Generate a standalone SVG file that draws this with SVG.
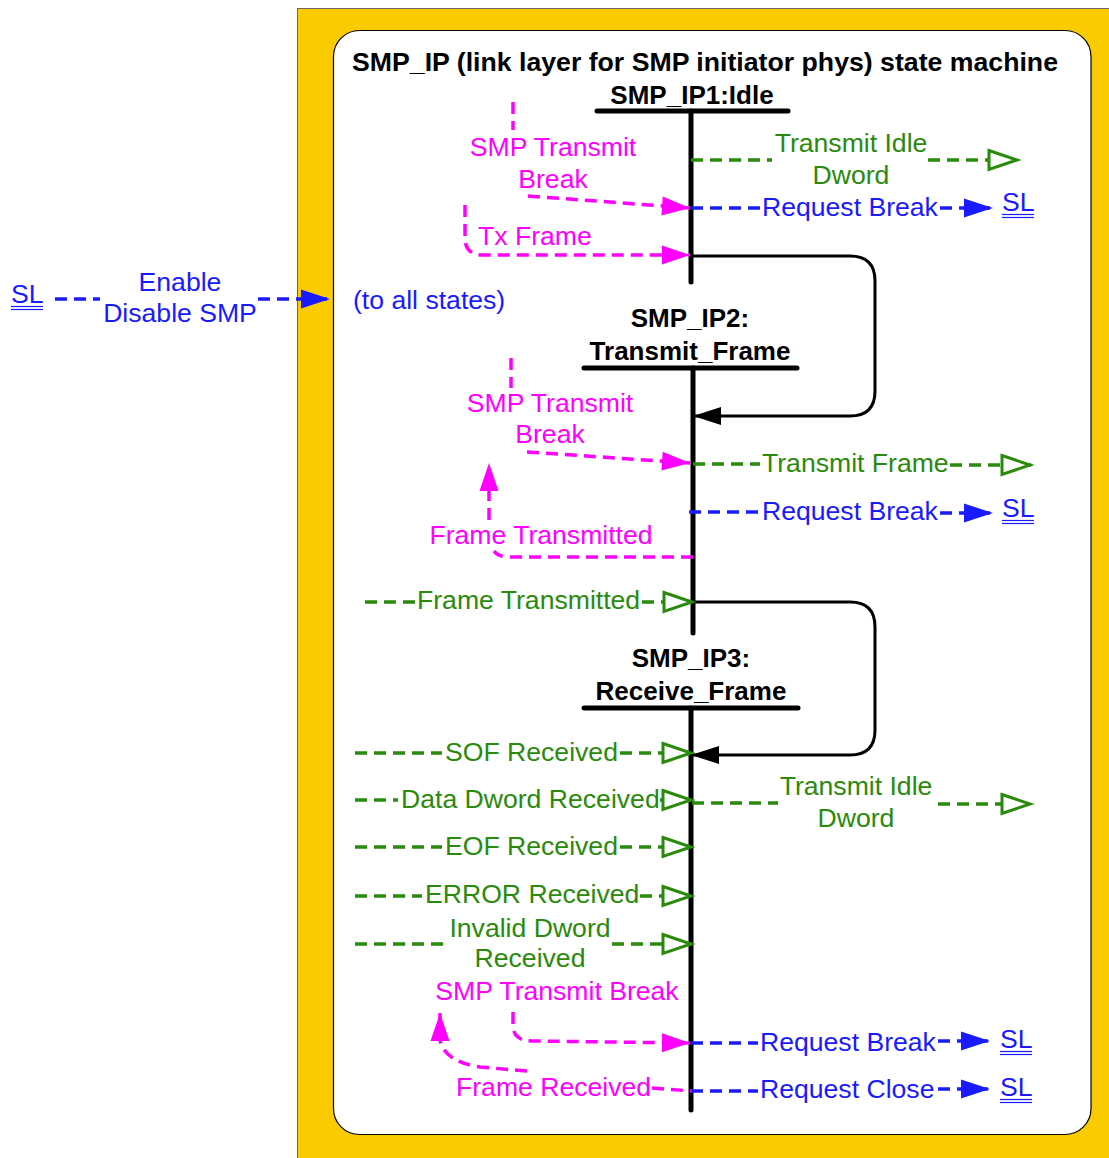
<svg xmlns="http://www.w3.org/2000/svg" width="1109" height="1158" viewBox="0 0 1109 1158">
<style>
text{font-family:"Liberation Sans",Arial,sans-serif;font-size:26.6px}
.b{font-weight:bold;fill:#000;font-size:26px}
.g{fill:#2A8A0C}
.m{fill:#FF00FF}
.u{fill:#1A1AFF}
.mid{text-anchor:middle}
.bar{stroke:#000;stroke-width:5;stroke-linecap:round;fill:none}
.loop{stroke:#000;stroke-width:3;fill:none}
.dg{stroke:#2A8A0C;stroke-width:3.5;stroke-dasharray:12 7;fill:none}
.dm{stroke:#FF00FF;stroke-width:3.5;stroke-dasharray:12 7;fill:none}
.du{stroke:#1A1AFF;stroke-width:3.5;stroke-dasharray:12 7;fill:none}
.ul{stroke:#1A1AFF;stroke-width:1.2}
</style>
<defs>
<marker id="ak" markerUnits="userSpaceOnUse" viewBox="0 0 30 20" markerWidth="30" markerHeight="20" refX="28" refY="10" orient="auto" overflow="visible"><path d="M0,1 L28,10 L0,19 Z" fill="#000"/></marker>
<marker id="au" markerUnits="userSpaceOnUse" viewBox="0 0 30 20" markerWidth="30" markerHeight="20" refX="29" refY="10" orient="auto" overflow="visible"><path d="M0,0.5 L29,10 L0,19.5 Z" fill="#1A1AFF"/></marker>
<marker id="am" markerUnits="userSpaceOnUse" viewBox="0 0 30 20" markerWidth="30" markerHeight="20" refX="28" refY="10" orient="auto" overflow="visible"><path d="M0,0.5 L28,10 L0,19.5 Z" fill="#FF00FF"/></marker>
<marker id="ag" markerUnits="userSpaceOnUse" viewBox="0 0 32 22" markerWidth="32" markerHeight="22" refX="31" refY="11" orient="auto" overflow="visible"><path d="M2,1.5 L30,11 L2,20.5 Z" fill="#fff" stroke="#2A8A0C" stroke-width="3" stroke-linejoin="miter"/></marker>
</defs>

<g id="frame">
<rect x="297.5" y="8.5" width="830" height="1170" fill="#FACB00" stroke="#666" stroke-width="1"/>
<rect x="333.5" y="30.5" width="757.5" height="1104" rx="26" fill="#fff" stroke="#000" stroke-width="1.2"/>
<text class="b mid" x="705" y="71" textLength="706" lengthAdjust="spacingAndGlyphs">SMP_IP (link layer for SMP initiator phys) state machine</text>
</g>

<g id="state1">
<text class="b mid" x="692" y="104">SMP_IP1:Idle</text>
<line class="bar" x1="597" y1="111" x2="788" y2="111"/>
<line class="bar" x1="691" y1="111" x2="691" y2="282"/>
</g>

<g id="state2">
<text class="b mid" x="690" y="327">SMP_IP2:</text>
<text class="b mid" x="690" y="360">Transmit_Frame</text>
<line class="bar" x1="584" y1="368" x2="797" y2="368"/>
<line class="bar" x1="693" y1="368" x2="693" y2="633"/>
</g>

<g id="state3">
<text class="b mid" x="691" y="667">SMP_IP3:</text>
<text class="b mid" x="691" y="700">Receive_Frame</text>
<line class="bar" x1="584" y1="708" x2="798" y2="708"/>
<line class="bar" x1="691" y1="708" x2="691" y2="1110"/>
</g>

<g id="connectors">
<!-- state transitions -->
<path class="loop" d="M691,256 H850 Q875,256 875,281 V391 Q875,416 850,416 H693" marker-end="url(#ak)"/>
<path class="loop" d="M693,602 H850 Q875,602 875,627 V730 Q875,755 850,755 H691" marker-end="url(#ak)"/>

<!-- enable/disable -->
<path class="du" d="M55,299 H100"/>
<path class="du" d="M258,299 H330" marker-end="url(#au)"/>
<text class="u mid" x="180" y="291">Enable</text>
<text class="u mid" x="180" y="322">Disable SMP</text>
<text class="u" x="11" y="303">SL</text>
<line class="ul" x1="11" y1="306.5" x2="43" y2="306.5"/><line class="ul" x1="11" y1="309.5" x2="43" y2="309.5"/>
<text class="u" x="353" y="309">(to all states)</text>

<!-- state1 -->
<path class="dm" d="M513,102 V130"/>
<path class="dm" d="M528,196 L690,208" marker-end="url(#am)"/>
<text class="m mid" x="553" y="156">SMP Transmit</text>
<text class="m mid" x="553" y="188">Break</text>
<path class="dm" d="M465,205 V238 Q465,255 483,255 H690" marker-end="url(#am)"/>
<text class="m" x="478" y="245">Tx Frame</text>

<path class="dg" d="M691,160 H772"/>
<path class="dg" d="M928,160 H1018" marker-end="url(#ag)"/>
<text class="g mid" x="851" y="152">Transmit Idle</text>
<text class="g mid" x="851" y="184">Dword</text>

<path class="du" d="M691,208 H760"/>
<path class="du" d="M940,208 H993" marker-end="url(#au)"/>
<text class="u" x="762" y="216">Request Break</text>
<text class="u" x="1002" y="211">SL</text>
<line class="ul" x1="1002" y1="214.5" x2="1034" y2="214.5"/><line class="ul" x1="1002" y1="217.5" x2="1034" y2="217.5"/>

<!-- state2 -->
<path class="dm" d="M511,358 V388"/>
<path class="dm" d="M527,452 L690,463" marker-end="url(#am)"/>
<text class="m mid" x="550" y="412">SMP Transmit</text>
<text class="m mid" x="550" y="443">Break</text>
<path class="dm" d="M489,520 V463" marker-end="url(#am)"/>
<text class="m mid" x="541" y="544">Frame Transmitted</text>
<path class="dm" d="M693,557 H510 Q498,557 494,551"/>

<path class="dg" d="M693,464 H760"/>
<path class="dg" d="M950,465 H1031" marker-end="url(#ag)"/>
<text class="g" x="762" y="472">Transmit Frame</text>

<path class="du" d="M689,512 H760"/>
<path class="du" d="M940,513 H993" marker-end="url(#au)"/>
<text class="u" x="762" y="520">Request Break</text>
<text class="u" x="1002" y="517">SL</text>
<line class="ul" x1="1002" y1="520.5" x2="1034" y2="520.5"/><line class="ul" x1="1002" y1="523.5" x2="1034" y2="523.5"/>

<path class="dg" d="M365,602 H415"/>
<path class="dg" d="M642,602 H693" marker-end="url(#ag)"/>
<text class="g" x="417" y="609">Frame Transmitted</text>

<!-- state3 -->
<path class="dg" d="M355,753 H442"/>
<path class="dg" d="M620,753 H692" marker-end="url(#ag)"/>
<text class="g" x="445" y="761">SOF Received</text>

<path class="dg" d="M355,800 H398"/>
<path class="dg" d="M660,800 H692" marker-end="url(#ag)"/>
<text class="g" x="401" y="808">Data Dword Received</text>

<path class="dg" d="M692,803 H778"/>
<path class="dg" d="M938,804 H1031" marker-end="url(#ag)"/>
<text class="g mid" x="856" y="795">Transmit Idle</text>
<text class="g mid" x="856" y="827">Dword</text>

<path class="dg" d="M355,847 H442"/>
<path class="dg" d="M620,847 H692" marker-end="url(#ag)"/>
<text class="g" x="445" y="855">EOF Received</text>

<path class="dg" d="M355,896 H422"/>
<path class="dg" d="M640,896 H692" marker-end="url(#ag)"/>
<text class="g" x="425" y="903">ERROR Received</text>

<path class="dg" d="M355,944 H443"/>
<path class="dg" d="M612,944 H692" marker-end="url(#ag)"/>
<text class="g mid" x="530" y="937">Invalid Dword</text>
<text class="g mid" x="530" y="967">Received</text>

<text class="m mid" x="557" y="1000">SMP Transmit Break</text>
<path class="dm" d="M513,1012 V1025 Q513,1041 532,1041 L690,1043" marker-end="url(#am)"/>
<path class="dm" d="M527,1071 L480,1067 Q445,1062 440,1040 V1013" marker-end="url(#am)"/>
<text class="m" x="456" y="1096">Frame Received</text>
<path class="dm" d="M652,1088 L691,1091"/>

<path class="du" d="M691,1043 H758"/>
<path class="du" d="M938,1041 H990" marker-end="url(#au)"/>
<text class="u" x="760" y="1051">Request Break</text>
<text class="u" x="1000" y="1048">SL</text>
<line class="ul" x1="1000" y1="1051.5" x2="1032" y2="1051.5"/><line class="ul" x1="1000" y1="1054.5" x2="1032" y2="1054.5"/>

<path class="du" d="M691,1091 H758"/>
<path class="du" d="M938,1089 H990" marker-end="url(#au)"/>
<text class="u" x="760" y="1098">Request Close</text>
<text class="u" x="1000" y="1096">SL</text>
<line class="ul" x1="1000" y1="1099.5" x2="1032" y2="1099.5"/><line class="ul" x1="1000" y1="1102.5" x2="1032" y2="1102.5"/>
</g>
</svg>
